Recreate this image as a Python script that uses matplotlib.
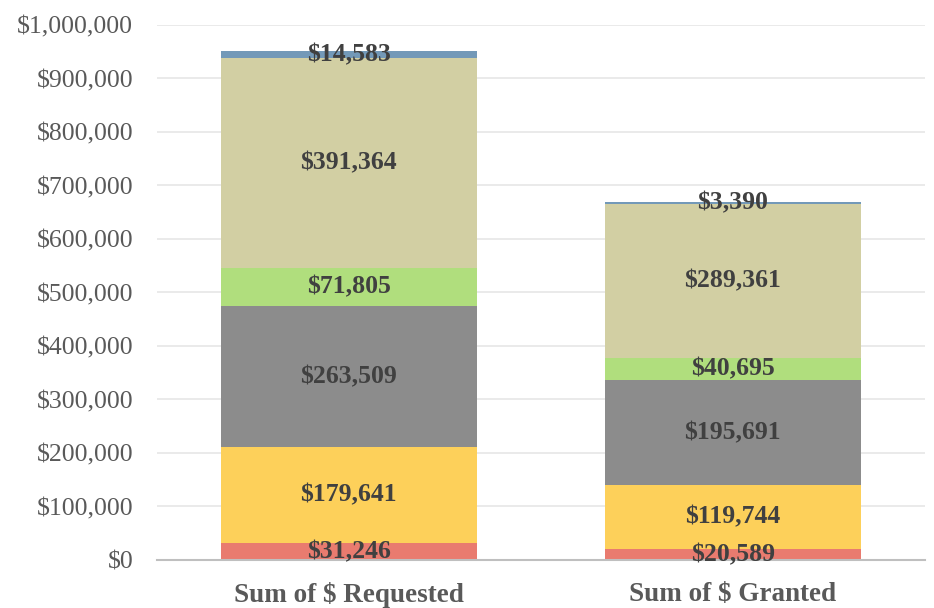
import numpy as np
import matplotlib.pyplot as plt
from matplotlib.ticker import FuncFormatter

plt.rcParams['font.family'] = ['Liberation Serif', 'DejaVu Serif']

categories = ["Sum of $ Requested", "Sum of $ Granted"]
# stacked segments, bottom to top
red = [31246, 20589]
yellow = [179641, 119744]
gray = [263509, 195691]
green = [71805, 40695]
khaki = [391364, 289361]
blue = [14583, 3390]

series = [red, yellow, gray, green, khaki, blue]
colors = ["#E97B6F", "#FDD05A", "#8C8C8C", "#B0DE7D", "#D2CFA3", "#7399B8"]

fig = plt.figure(figsize=(9.34, 6.08), dpi=100)
ax = fig.add_axes([0.168, 0.079, 0.822, 0.880])

x = np.arange(len(categories))
bottom = np.zeros(len(categories))
for vals, c in zip(series, colors):
    vals = np.array(vals, dtype=float)
    ax.bar(x, vals, 0.667, bottom=bottom, color=c, zorder=2)
    for xi, b, v in zip(x, bottom, vals):
        ax.text(xi, b + v / 2, f"${v:,.0f}", ha="center", va="center",
                fontsize=18.5, fontweight="bold", color="#404040", zorder=3)
    bottom += vals

ax.set_xlim(-0.5, 1.5)
ax.set_ylim(0, 1000000)
ax.set_yticks(np.arange(0, 1000001, 100000))
ax.yaxis.set_major_formatter(FuncFormatter(lambda v, p: f"${v:,.0f}"))
ax.set_xticks(x)
ax.set_xticklabels(categories, fontsize=19.5, fontweight="bold", color="#595959")
ax.tick_params(axis="y", labelsize=18.5, labelcolor="#595959", length=0, pad=17)
ax.tick_params(axis="x", length=0, pad=16)
ax.grid(axis="y", color="#E6E6E6", linewidth=1.2, zorder=0)
for s in ["top", "right", "left"]:
    ax.spines[s].set_visible(False)
ax.spines["bottom"].set_color("#BFBFBF")
ax.spines["bottom"].set_linewidth(1.5)

fig.savefig("out.png", dpi=100)
